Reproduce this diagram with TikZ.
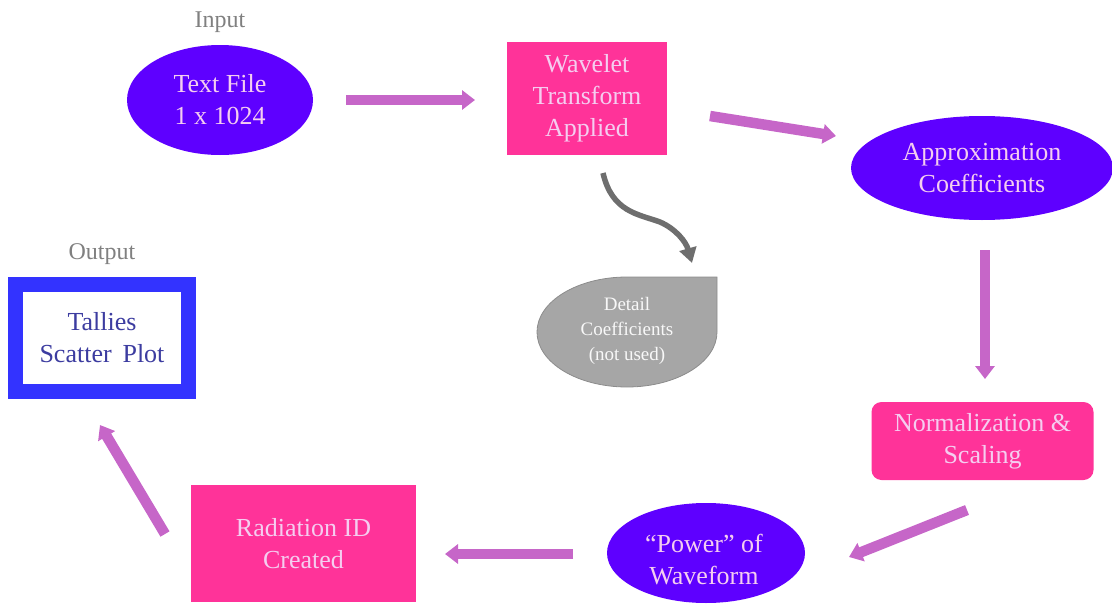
\documentclass[tikz,border=0pt]{standalone}
\usepackage{fontspec}
\setmainfont{Liberation Serif}
\newfontfamily\diagfont{Liberation Serif}
\usetikzlibrary{arrows.meta,shapes.geometric}
\definecolor{ellfill}{RGB}{94,0,255}
\definecolor{boxfill}{RGB}{255,51,153}
\definecolor{flowc}{RGB}{198,102,200}
\definecolor{lighttext}{RGB}{245,205,240}
\definecolor{outblue}{RGB}{51,51,255}
\definecolor{outtext}{RGB}{60,60,160}
\definecolor{labgray}{RGB}{128,128,128}
\definecolor{dropfill}{RGB}{166,166,166}
\definecolor{dropedge}{RGB}{140,140,140}
\definecolor{curvegray}{RGB}{110,110,110}
\begin{document}
\begin{tikzpicture}[x=1pt,y=-1pt,
  bigtext/.style={font=\diagfont\fontsize{26}{32}\selectfont, align=center},
  ellnode/.style={ellipse, fill=ellfill, text=lighttext, bigtext, inner sep=0pt},
  pinkbox/.style={rectangle, fill=boxfill, text=lighttext, bigtext, inner sep=0pt},
  flow/.style={draw=flowc, line width=10.5pt, -{Triangle[width=19pt,length=13pt]}},
  lab/.style={text=labgray, font=\diagfont\fontsize{24}{28}\selectfont}
]
\useasboundingbox (0,0) rectangle (1112,605);

% labels
\node[lab] (inlab) at (220,22) {Input};
\node[lab] (outlab) at (102,254) {Output};

% nodes
\node[ellnode, minimum width=186pt, minimum height=110pt] (textfile) at (220,100) {Text File\\1 x 1024};
\node[pinkbox, minimum width=160pt, minimum height=113pt] (wavelet) at (587,98.5) {Wavelet\\Transform\\Applied};
\node[ellnode, minimum width=262pt, minimum height=104pt] (approx) at (982,168) {Approximation\\Coefficients};
\node[pinkbox, rounded corners=10pt, minimum width=222pt, minimum height=78pt] (norm) at (982.5,441) {Normalization \&\\Scaling};
\node[ellnode, minimum width=198pt, minimum height=100pt] (power) at (706,553) {};
\node[text=lighttext, bigtext] (powertext) at (704,560) {“Power” of\\Waveform};
\node[pinkbox, minimum width=225pt, minimum height=117pt] (radid) at (303.5,543.5) {Radiation ID\\Created};
\node[draw=outblue, line width=15pt, fill=white, text=outtext, bigtext, minimum width=173pt, minimum height=107pt, inner sep=0pt] (tallies) at (102,338) {Tallies\\Scatter\, Plot};

% detail coefficients teardrop
\draw[fill=dropfill, draw=dropedge, line width=0.8pt] (717,277) -- (717,332)
  arc[start angle=0, end angle=270, x radius=90, y radius=55] -- cycle;
\node[text=white!92!dropfill, font=\diagfont\fontsize{19}{25}\selectfont, align=center] (detail) at (627,331) {Detail\\Coefficients\\(not used)};

% flow arrow coordinates
\coordinate (a1s) at (346,100); \coordinate (a1e) at (475,100);
\coordinate (a2s) at (710,116); \coordinate (a2e) at (836,136);
\coordinate (a3s) at (985,250); \coordinate (a3e) at (985,379);
\coordinate (a4s) at (967,510); \coordinate (a4e) at (849,557);
\coordinate (a5s) at (573,554); \coordinate (a5e) at (445,554);
\coordinate (a6s) at (165,534); \coordinate (a6e) at (100,425);

\draw[flow] (a1s) -- (a1e);
\draw[flow] (a2s) -- (a2e);
\draw[flow] (a3s) -- (a3e);
\draw[flow] (a4s) -- (a4e);
\draw[flow] (a5s) -- (a5e);
\draw[flow] (a6s) -- (a6e);

% curved gray arrow
\coordinate (cs) at (603,173);
\coordinate (ce) at (692,263);
\draw[draw=curvegray, line width=5.5pt, -{Triangle[width=17pt,length=15pt]}]
  (cs) .. controls (612,212) and (638,214) .. (660,222)
  .. controls (676,229) and (686,242) .. (ce);
\end{tikzpicture}
\end{document}
